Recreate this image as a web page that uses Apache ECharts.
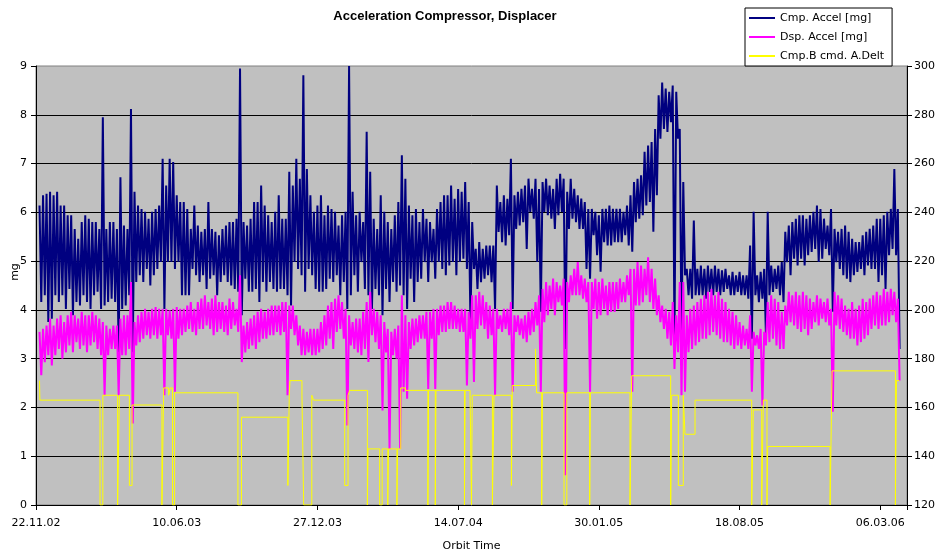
<!DOCTYPE html>
<html>
<head>
<meta charset="utf-8">
<script src="https://cdn.jsdelivr.net/npm/echarts@6/dist/echarts.min.js"></script>
<style>
html, body { margin: 0; padding: 0; background: #ffffff; }
#chart { width: 938px; height: 554px; }
</style>
</head>
<body>
<div id="chart"></div>
<script>
// Orbit time axis: days counted from 22.11.02, one labelled tick every 200 days
const dayTickLabels = ['22.11.02', '10.06.03', '27.12.03', '14.07.04', '30.01.05', '18.08.05', '06.03.06'];
const seriesNames = ['Cmp. Accel [mg]', 'Dsp. Accel [mg]', 'Cmp.B cmd. A.Delt'];
const leftAxisTitle = 'mg';

// Accelerations are logged in 5-day windows starting at day 5;
// every window keeps its highest and lowest reading in mg.
const windowDays = 5;

const cmpHi = [
  6.14, 6.35, 6.38, 6.42, 6.35, 6.42, 6.14, 6.14, 5.94, 5.94,
  5.66, 5.46, 5.80, 5.94, 5.87, 5.80, 5.80, 5.66, 7.95, 5.66,
  5.80, 5.80, 5.66, 6.72, 5.73, 5.66, 8.12, 6.42, 6.14, 6.07,
  6.01, 5.87, 6.01, 6.07, 6.14, 7.10, 6.55, 7.10, 7.03, 6.35,
  6.21, 6.21, 6.07, 5.66, 6.14, 5.73, 5.60, 5.66, 6.21, 5.66,
  5.60, 5.53, 5.66, 5.73, 5.80, 5.80, 5.87, 8.95, 5.80, 5.73,
  5.87, 6.21, 6.21, 6.55, 6.14, 5.94, 5.80, 6.01, 6.35, 5.87,
  5.87, 6.83, 6.55, 7.10, 6.69, 8.81, 6.89, 6.35, 6.01, 6.14,
  6.35, 5.94, 6.14, 6.07, 6.01, 5.73, 5.94, 6.01, 9.00, 6.42,
  5.94, 6.01, 5.80, 7.65, 6.83, 5.87, 5.66, 6.35, 6.01, 5.80,
  5.66, 5.94, 6.21, 7.17, 6.69, 6.14, 5.94, 6.07, 5.80, 6.07,
  5.87, 5.80, 5.66, 6.07, 6.21, 6.35, 6.35, 6.55, 6.28, 6.48,
  6.42, 6.62, 6.21, 5.80, 5.25, 5.39, 5.25, 5.32, 5.32, 5.32,
  6.55, 6.21, 6.35, 6.28, 7.10, 6.35, 6.42, 6.48, 6.55, 6.69,
  6.48, 6.69, 6.48, 6.62, 6.69, 6.55, 6.48, 6.69, 6.79, 6.69,
  6.42, 6.69, 6.48, 6.35, 6.28, 6.21, 6.07, 6.07, 6.01, 5.94,
  6.07, 6.07, 6.14, 6.07, 6.07, 6.07, 6.01, 6.14, 6.35, 6.62,
  6.69, 6.76, 7.24, 7.37, 7.44, 7.71, 8.40, 8.66, 8.54, 8.47,
  8.60, 8.47, 7.71, 6.62, 4.84, 4.84, 5.83, 4.84, 4.91, 4.84,
  4.91, 4.84, 4.91, 4.84, 4.81, 4.84, 4.71, 4.78, 4.71, 4.78,
  4.71, 4.71, 5.32, 6.01, 4.71, 4.78, 4.84, 6.01, 4.91, 4.84,
  4.91, 4.98, 5.60, 5.73, 5.80, 5.87, 5.94, 5.94, 5.87, 5.94,
  6.01, 6.14, 6.07, 5.87, 5.73, 6.07, 5.66, 5.60, 5.66, 5.73,
  5.60, 5.46, 5.39, 5.39, 5.53, 5.60, 5.66, 5.73, 5.87, 5.87,
  5.94, 6.01, 6.07, 6.89, 6.07
];
const cmpLo = [
  4.16, 4.30, 3.75, 3.82, 4.30, 4.16, 4.30, 4.02, 4.43, 3.89,
  4.16, 4.09, 4.30, 4.16, 4.02, 4.30, 4.37, 4.02, 4.09, 4.16,
  4.23, 4.16, 3.13, 4.02, 4.09, 4.30, 3.13, 4.57, 4.71, 4.57,
  4.84, 4.50, 4.71, 4.84, 4.98, 4.02, 4.98, 4.98, 4.84, 4.98,
  4.30, 4.30, 4.30, 4.84, 4.71, 4.57, 4.71, 4.43, 4.64, 4.71,
  4.30, 4.57, 4.71, 4.57, 4.50, 4.43, 4.37, 3.89, 4.64, 4.37,
  4.37, 4.43, 4.16, 4.57, 4.37, 4.57, 4.43, 4.37, 4.43, 4.43,
  4.30, 4.09, 4.98, 4.84, 4.71, 4.37, 4.84, 4.71, 4.43, 4.37,
  4.37, 4.43, 4.64, 4.57, 4.71, 4.30, 4.57, 4.02, 4.30, 4.71,
  4.37, 4.98, 4.43, 4.30, 4.02, 4.43, 4.30, 3.89, 4.43, 4.16,
  4.57, 4.37, 4.50, 4.30, 4.02, 4.64, 4.16, 4.57, 4.64, 4.98,
  4.57, 4.98, 4.64, 4.98, 4.84, 4.71, 4.91, 4.98, 4.71, 4.98,
  5.05, 4.84, 3.75, 4.84, 4.43, 4.57, 4.64, 4.71, 4.57, 4.02,
  5.60, 5.39, 5.32, 5.53, 4.02, 5.66, 5.73, 5.80, 5.25, 6.01,
  5.87, 4.98, 3.96, 6.01, 5.94, 5.87, 5.66, 5.94, 6.01, 3.20,
  5.66, 5.87, 5.80, 5.66, 5.66, 4.84, 4.64, 5.53, 5.12, 4.78,
  5.39, 5.32, 5.32, 5.39, 5.39, 5.39, 5.53, 5.32, 5.19, 5.80,
  5.87, 5.94, 6.14, 6.21, 5.60, 6.35, 7.51, 7.71, 7.65, 7.85,
  3.41, 7.51, 3.41, 4.71, 4.30, 4.23, 4.30, 4.30, 4.30, 4.23,
  4.37, 4.30, 4.37, 4.30, 4.37, 4.43, 4.30, 4.30, 4.37, 4.30,
  4.30, 4.23, 3.41, 4.30, 4.16, 4.23, 3.48, 4.30, 4.37, 4.43,
  4.30, 4.16, 4.98, 4.71, 5.05, 4.91, 5.05, 4.91, 5.12, 5.19,
  5.25, 4.98, 5.05, 5.25, 5.12, 3.96, 4.98, 4.84, 4.71, 4.64,
  4.57, 4.71, 4.78, 4.84, 4.71, 4.91, 4.84, 4.84, 4.57, 4.71,
  4.43, 5.12, 5.25, 5.12, 3.20
];

const dspHi = [
  3.55, 3.61, 3.68, 3.82, 3.68, 3.82, 3.89, 3.75, 3.89, 3.96,
  3.89, 3.82, 3.96, 3.89, 3.89, 3.96, 3.89, 3.82, 3.75, 3.68,
  3.61, 3.68, 3.68, 3.82, 3.89, 3.89, 4.57, 3.75, 3.89, 3.96,
  4.02, 3.96, 4.02, 4.06, 4.02, 4.02, 4.02, 3.99, 4.02, 4.06,
  4.02, 4.02, 4.09, 4.16, 4.02, 4.16, 4.23, 4.30, 4.16, 4.23,
  4.30, 4.16, 4.16, 4.09, 4.23, 4.16, 4.02, 4.71, 3.68, 3.75,
  3.82, 3.89, 3.96, 4.02, 3.96, 4.02, 4.09, 4.09, 4.09, 4.16,
  4.16, 4.09, 4.09, 3.89, 3.68, 3.61, 3.55, 3.61, 3.61, 3.61,
  3.75, 3.89, 4.09, 4.16, 4.23, 4.30, 4.16, 4.02, 3.89, 3.75,
  3.82, 3.82, 3.96, 4.16, 4.37, 4.02, 3.96, 3.89, 3.75, 3.61,
  3.55, 3.61, 3.68, 4.30, 3.89, 3.75, 3.82, 3.82, 3.89, 3.89,
  3.96, 3.96, 4.02, 4.02, 4.09, 4.09, 4.16, 4.16, 4.09, 4.02,
  4.02, 4.02, 3.96, 4.30, 4.30, 4.37, 4.30, 4.16, 4.09, 4.02,
  4.02, 3.89, 4.02, 4.02, 4.16, 3.89, 3.89, 3.82, 3.89, 3.96,
  4.02, 4.16, 4.30, 4.43, 4.57, 4.50, 4.64, 4.57, 4.50, 4.64,
  4.57, 4.71, 4.84, 4.98, 4.71, 4.64, 4.57, 4.57, 4.64, 4.57,
  4.64, 4.50, 4.57, 4.57, 4.57, 4.64, 4.57, 4.71, 4.84, 4.84,
  4.98, 4.91, 4.84, 5.08, 4.84, 4.64, 4.30, 4.09, 4.02, 3.96,
  4.16, 3.89, 4.57, 4.57, 3.89, 4.02, 4.09, 4.16, 4.23, 4.30,
  4.37, 4.43, 4.30, 4.37, 4.23, 4.16, 4.02, 3.96, 3.89, 3.75,
  3.68, 3.61, 3.89, 3.55, 3.48, 3.61, 3.55, 4.16, 4.30, 4.23,
  4.16, 3.96, 4.09, 4.37, 4.30, 4.37, 4.30, 4.37, 4.30, 4.23,
  4.16, 4.30, 4.23, 4.16, 4.23, 4.02, 4.37, 4.30, 4.23, 4.09,
  4.02, 4.16, 4.02, 4.09, 4.23, 4.16, 4.23, 4.30, 4.37, 4.30,
  4.43, 4.37, 4.43, 4.37, 4.23
];
const dspLo = [
  2.66, 2.93, 3.07, 2.86, 3.07, 3.20, 3.00, 3.13, 3.27, 3.13,
  3.34, 3.20, 3.27, 3.13, 3.27, 3.34, 3.20, 3.07, 2.25, 3.07,
  3.20, 3.20, 2.25, 3.07, 3.07, 3.20, 1.67, 3.27, 3.34, 3.41,
  3.48, 3.41, 3.48, 3.41, 3.48, 2.25, 3.48, 3.41, 2.32, 3.41,
  3.48, 3.55, 3.61, 3.55, 3.48, 3.61, 3.61, 3.68, 3.61, 3.48,
  3.55, 3.61, 3.55, 3.48, 3.61, 3.68, 3.55, 2.93, 3.13, 3.20,
  3.27, 3.20, 3.34, 3.41, 3.41, 3.48, 3.48, 3.55, 3.48, 3.55,
  2.25, 3.61, 3.48, 3.27, 3.07, 3.07, 3.13, 3.07, 3.07, 3.13,
  3.20, 3.27, 3.41, 3.20, 3.55, 3.61, 3.41, 1.63, 3.27, 3.20,
  3.13, 3.07, 3.20, 2.93, 3.48, 3.34, 3.20, 1.94, 3.13, 1.15,
  3.07, 3.00, 1.15, 2.32, 2.18, 3.20, 3.27, 3.34, 3.41, 3.41,
  2.38, 3.41, 2.38, 3.48, 3.55, 3.55, 3.61, 3.61, 3.61, 3.55,
  3.55, 2.45, 3.41, 2.52, 3.61, 3.68, 3.61, 3.41, 3.48, 2.25,
  3.61, 3.55, 3.61, 3.48, 2.32, 3.55, 3.48, 3.41, 3.34, 3.48,
  3.55, 3.68, 2.32, 3.75, 3.89, 4.02, 3.89, 4.16, 4.09, 0.61,
  4.16, 4.30, 4.30, 4.30, 4.23, 4.16, 2.32, 4.02, 3.82, 3.89,
  4.02, 3.89, 3.96, 3.96, 4.02, 4.16, 4.16, 4.30, 2.32, 4.09,
  4.09, 4.16, 4.30, 4.16, 4.02, 3.89, 3.75, 3.61, 3.41, 3.27,
  2.79, 3.13, 2.25, 2.32, 3.13, 3.20, 3.27, 3.34, 3.41, 3.41,
  3.48, 3.55, 3.48, 3.41, 3.34, 3.34, 3.27, 3.20, 3.27, 3.20,
  3.27, 3.20, 2.32, 3.27, 3.20, 2.04, 3.27, 3.34, 3.41, 3.27,
  3.20, 3.20, 3.68, 3.75, 3.68, 3.61, 3.55, 3.61, 3.48, 3.61,
  3.75, 3.68, 3.82, 3.75, 3.68, 1.91, 3.68, 3.61, 3.55, 3.48,
  3.41, 3.41, 3.27, 3.34, 3.41, 3.48, 3.61, 3.68, 3.61, 3.68,
  3.68, 3.75, 3.89, 3.75, 2.55
];

// Commanded amplitude (right axis): day on which each new setting takes effect
const cmdDays = [
  5, 5.5, 91, 95, 116, 118.5, 132.7, 136.5, 179, 181.5,
  188.5, 191, 194, 197, 287, 292, 358, 360, 361, 378,
  380.5, 392, 394.5, 438.8, 443.5, 446, 471, 472, 488.5, 492,
  500, 501, 513, 514, 518.4, 525, 557, 558, 567.5, 568.5,
  609, 610, 617, 619, 620, 648.7, 651, 675.7, 677, 710,
  711.5, 718.8, 719.8, 750.5, 754.5, 787, 788, 844.3, 846.7, 902.1,
  903.5, 913, 920, 922.5, 936.7, 1017.3, 1019.5, 1031.5, 1033.8, 1039,
  1040, 1128.7, 1131.5, 1221.5, 1223, 1227
];
const cmdValues = [
  171, 163, 120, 165, 120, 165, 128, 161, 120, 168,
  165, 168, 120, 166, 120, 156, 128, 165, 171, 165,
  120, 165, 163, 128, 165, 167, 120, 143, 120, 143,
  120, 143, 120, 143, 168, 167, 120, 167, 120, 167,
  120, 167, 165, 120, 165, 120, 165, 128, 169, 184,
  166, 120, 166, 120, 166, 120, 166, 120, 173, 120,
  165, 128, 165, 149, 163, 120, 159, 120, 163, 120,
  144, 120, 175, 120, 171, 171
];

// Each window is drawn as its maximum followed by its minimum
function windowTrace(hi, lo) {
  const pts = [];
  for (let i = 0; i < hi.length; i++) {
    const start = (i + 1) * windowDays;
    pts.push([start, hi[i]]);
    pts.push([start + windowDays / 2, lo[i]]);
  }
  return pts;
}
const cmdTrace = cmdDays.map((d, i) => [d, cmdValues[i]]);

const textFont = 'DejaVu Sans';
const axisText = { color: '#000', fontFamily: textFont, fontSize: 11 };
const blackLine = { color: '#000', width: 1 };

const chart = echarts.init(document.getElementById('chart'), null, { renderer: 'canvas' });
chart.setOption({
  animation: false,
  backgroundColor: '#ffffff',
  title: {
    text: 'Acceleration Compressor, Displacer',
    left: 445,
    top: 10,
    padding: 0,
    textAlign: 'center',
    textStyle: { fontFamily: 'Liberation Sans', fontWeight: 'bold', fontSize: 13, color: '#000' }
  },
  legend: {
    orient: 'vertical',
    left: 745,
    top: 8,
    padding: [3, 8, 3, 4],
    itemGap: 5,
    itemWidth: 26,
    itemHeight: 2,
    icon: 'rect',
    backgroundColor: '#ffffff',
    borderColor: '#000',
    borderWidth: 1,
    selectedMode: false,
    textStyle: { color: '#000', fontFamily: textFont, fontSize: 11, lineHeight: 14 },
    data: seriesNames
  },
  // Left axis title, set a little above the middle of the plot
  graphic: [{
    type: 'text',
    x: 15,
    y: 272,
    rotation: Math.PI / 2,
    silent: true,
    style: {
      text: leftAxisTitle,
      fill: '#000',
      font: '11px "DejaVu Sans"',
      textAlign: 'center',
      textVerticalAlign: 'middle'
    }
  }],
  grid: {
    left: 36, right: 31, top: 66, bottom: 49,
    containLabel: false,
    outerBoundsMode: 'none',
    show: true,
    backgroundColor: '#c0c0c0',
    borderColor: '#808080',
    borderWidth: 1
  },
  xAxis: {
    type: 'value',
    min: 0,
    max: 1238,
    interval: 200,
    name: 'Orbit Time',
    nameLocation: 'middle',
    nameGap: 36,
    nameTextStyle: axisText,
    axisLine: { show: true, lineStyle: blackLine },
    axisTick: { show: true, length: 5, lineStyle: blackLine },
    axisLabel: Object.assign({
      margin: 13,
      formatter: function (v) {
        const k = Math.round(v / 200);
        return (Math.abs(v - k * 200) < 1e-6 && dayTickLabels[k]) ? dayTickLabels[k] : '';
      }
    }, axisText),
    splitLine: { show: false }
  },
  yAxis: [
    {
      type: 'value',
      position: 'left',
      min: 0, max: 9, interval: 1,
      axisLine: { show: true, lineStyle: blackLine },
      axisTick: { show: true, length: 5, lineStyle: blackLine },
      axisLabel: Object.assign({ margin: 9 }, axisText),
      splitLine: { show: true, showMinLine: false, showMaxLine: false, lineStyle: blackLine }
    },
    {
      type: 'value',
      position: 'right',
      min: 120, max: 300, interval: 20,
      axisLine: { show: true, lineStyle: blackLine },
      axisTick: { show: true, length: 5, lineStyle: blackLine },
      axisLabel: Object.assign({ margin: 7 }, axisText),
      splitLine: { show: false }
    }
  ],
  series: [
    {
      name: seriesNames[0], type: 'line', yAxisIndex: 0,
      data: windowTrace(cmpHi, cmpLo),
      symbol: 'none', silent: true,
      lineStyle: { color: '#000080', width: 2 },
      itemStyle: { color: '#000080' }
    },
    {
      name: seriesNames[1], type: 'line', yAxisIndex: 0,
      data: windowTrace(dspHi, dspLo),
      symbol: 'none', silent: true,
      lineStyle: { color: '#ff00ff', width: 2 },
      itemStyle: { color: '#ff00ff' }
    },
    {
      name: seriesNames[2], type: 'line', yAxisIndex: 1,
      data: cmdTrace,
      step: 'end',
      symbol: 'none', silent: true,
      lineStyle: { color: '#ffff00', width: 1 },
      itemStyle: { color: '#ffff00' }
    }
  ]
});
</script>
</body>
</html>
